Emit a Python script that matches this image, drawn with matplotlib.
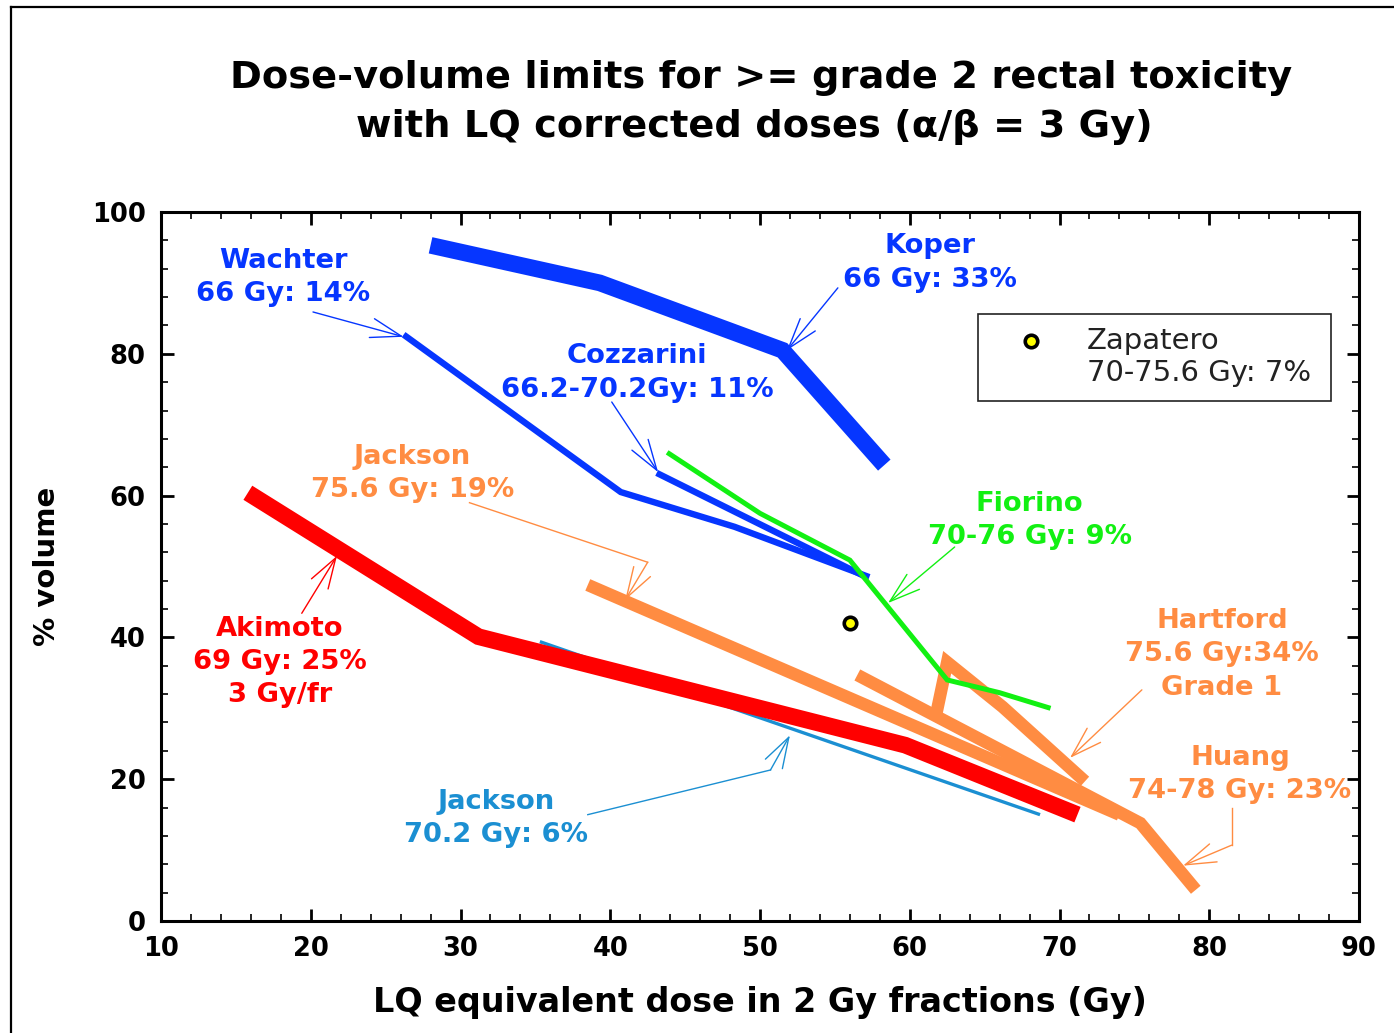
import matplotlib
matplotlib.use('Agg')
import matplotlib.pyplot as plt
from matplotlib.lines import Line2D
from matplotlib.patches import Rectangle

# Dose-volume curves (LQ dose in Gy, % rectal volume)
koper_x = [28.0, 39.3, 51.5, 58.3]
koper_y = [95.3, 90.0, 80.5, 64.3]
wachter_x = [26.2, 40.7, 48.3, 57.3]
wachter_y = [82.7, 60.5, 55.6, 48.5]
cozzarini_x = [43.1, 57.1]
cozzarini_y = [63.2, 48.5]
fiorino_x = [43.8, 50.0, 56.0, 62.5, 66.0, 69.4]
fiorino_y = [66.1, 57.5, 50.9, 34.0, 32.2, 30.0]
akimoto_x = [15.8, 31.2, 59.7, 71.2]
akimoto_y = [60.4, 40.1, 24.8, 15.0]
jackson70_x = [35.3, 68.7]
jackson70_y = [39.4, 15.0]
jackson75_x = [38.5, 74.0]
jackson75_y = [47.4, 15.0]
huang_x = [56.5, 75.4, 79.1]
huang_y = [34.7, 13.8, 4.4]
hartford_x = [61.8, 62.5, 66.2, 71.7]
hartford_y = [29.5, 36.5, 30.2, 19.7]
zapatero_x = [56.0]
zapatero_y = [42.0]

x_ticks = [10, 20, 30, 40, 50, 60, 70, 80, 90]
y_ticks = [0, 20, 40, 60, 80, 100]

blue = '#0636ff'
red = '#ff0000'
green = '#12f012'
orange = '#ff8c42'
lblue = '#1b8fd2'

fig = plt.figure(figsize=(13.94, 10.33), dpi=100)
ax = fig.add_axes([161/1394, 1 - 921/1033, 1198/1394, 709/1033])

# outer frame (top and left edges only)
fig.add_artist(Line2D([11/1394, 11/1394], [0, 1 - 7/1033], color='black', lw=1.6))
fig.add_artist(Line2D([11/1394, 1], [1 - 7/1033, 1 - 7/1033], color='black', lw=1.6))

kw = dict(solid_capstyle='butt', solid_joinstyle='miter')
ax.plot(jackson70_x, jackson70_y, color=lblue, lw=2.4, **kw)
ax.plot(akimoto_x, akimoto_y, color=red, lw=12, **kw)
ax.plot(jackson75_x, jackson75_y, color=orange, lw=9, **kw)
ax.plot(huang_x, huang_y, color=orange, lw=9, **kw)
ax.plot(hartford_x, hartford_y, color=orange, lw=9, **kw)
ax.plot(koper_x, koper_y, color=blue, lw=12, **kw)
ax.plot(wachter_x, wachter_y, color=blue, lw=4.6, **kw)
ax.plot(cozzarini_x, cozzarini_y, color=blue, lw=4.6, **kw)
ax.plot(fiorino_x, fiorino_y, color=green, lw=3.6, **kw)
ax.plot(zapatero_x, zapatero_y, 'o', ms=9, mfc='yellow', mec='black', mew=2.6)


def pointer(pts, color):
    xs = [p[0] for p in pts]
    ys = [p[1] for p in pts]
    if len(pts) > 2:
        ax.plot(xs[:-1], ys[:-1], color=color, lw=1)
    ax.annotate('', xy=pts[-1], xytext=pts[-2],
                arrowprops=dict(arrowstyle='->,head_length=1.1,head_width=0.35',
                                color=color, lw=1, mutation_scale=20,
                                shrinkA=0, shrinkB=0))


lab = dict(ha='center', va='center', fontsize=19.7, fontweight='bold',
           linespacing=1.36)
ax.text(18.15, 90.8, 'Wachter\n66 Gy: 14%', color=blue, **lab)
pointer([(20.15, 85.9), (26.2, 82.4)], blue)
ax.text(61.35, 92.8, 'Koper\n66 Gy: 33%', color=blue, **lab)
pointer([(55.2, 89.3), (51.8, 80.5)], blue)
ax.text(41.8, 77.3, 'Cozzarini\n66.2-70.2Gy: 11%', color=blue, **lab)
pointer([(40.1, 73.2), (43.2, 63.3)], blue)
ax.text(26.8, 63.1, 'Jackson\n75.6 Gy: 19%', color=orange, **lab)
pointer([(30.6, 59.0), (42.5, 50.6), (41.0, 45.3)], orange)
ax.text(17.95, 36.5, 'Akimoto\n69 Gy: 25%\n3 Gy/fr', color=red, **lab)
pointer([(19.4, 43.4), (21.75, 51.5)], red)
ax.text(32.4, 14.5, 'Jackson\n70.2 Gy: 6%', color=lblue, **lab)
pointer([(38.5, 15.0), (50.7, 21.3), (52.0, 26.2)], lblue)
ax.text(68.0, 56.5, 'Fiorino\n70-76 Gy: 9%', color=green, **lab)
pointer([(63.0, 52.75), (58.55, 44.85)], green)
ax.text(80.85, 37.6, 'Hartford\n75.6 Gy:34%\nGrade 1', color=orange, **lab)
pointer([(75.5, 32.6), (70.7, 23.0)], orange)
ax.text(82.05, 20.7, 'Huang\n74-78 Gy: 23%', color=orange, **lab)
pointer([(81.5, 15.9), (81.5, 10.7), (78.25, 7.8)], orange)

# legend box for the single point
ax.add_patch(Rectangle((0.682, 0.7334), 0.2946, 0.1226, transform=ax.transAxes,
                       fill=False, edgecolor='#222222', lw=1.2))
ax.plot([0.7262], [0.818], 'o', ms=9, mfc='yellow', mec='black', mew=2.6,
        transform=ax.transAxes, clip_on=False)
ax.text(0.773, 0.818, 'Zapatero', transform=ax.transAxes, fontsize=21,
        va='center', ha='left', color='#222222')
ax.text(0.773, 0.773, '70-75.6 Gy: 7%', transform=ax.transAxes, fontsize=21,
        va='center', ha='left', color='#222222')

ax.set_xlim(10, 90)
ax.set_ylim(0, 100)
ax.set_xticks(x_ticks)
ax.set_yticks(y_ticks)
ax.set_xticks(range(10, 91, 2), minor=True)
ax.set_yticks(range(0, 101, 4), minor=True)
ax.tick_params(which='both', direction='in', top=True, right=True)
ax.tick_params(which='major', length=9, width=2, labelsize=18.5, pad=11)
ax.tick_params(which='minor', length=5, width=1.2)
for t in ax.get_xticklabels() + ax.get_yticklabels():
    t.set_fontweight('bold')
for s in ax.spines.values():
    s.set_linewidth(2.2)

ax.set_xlabel('LQ equivalent dose in 2 Gy fractions (Gy)', fontsize=24,
              fontweight='bold', labelpad=17)
ax.set_ylabel('% volume', fontsize=21, fontweight='bold', labelpad=22)

fig.text(761/1394, 1 - 78/1033, 'Dose-volume limits for >= grade 2 rectal toxicity',
         ha='center', va='center', fontsize=27.6, fontweight='bold')
fig.text(754/1394, 1 - 127/1033, 'with LQ corrected doses (α/β = 3 Gy)',
         ha='center', va='center', fontsize=27.6, fontweight='bold')

fig.savefig('out.png', dpi=100)
